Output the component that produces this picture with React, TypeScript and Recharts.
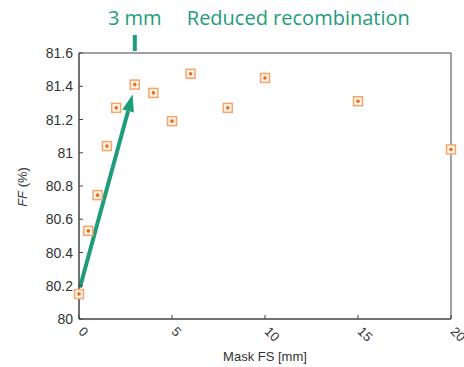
import { Scatter, ScatterChart, XAxis, YAxis, ReferenceLine, ReferenceArea } from "recharts";

const MASK_FS = [0, 0.5, 1, 1.5, 2, 3, 4, 5, 6, 8, 10, 15, 20];
const FF = [80.15, 80.53, 80.745, 81.04, 81.27, 81.41, 81.36, 81.19, 81.475, 81.27, 81.45, 81.31, 81.02];
const X_TICKS = [0, 5, 10, 15, 20];
const Y_TICKS = [80, 80.2, 80.4, 80.6, 80.8, 81, 81.2, 81.4, 81.6];
const ARROW = [{ x: 0.05, y: 80.19 }, { x: 2.88, y: 81.35 }];

const GREEN = "#1e9c7c";
const AXIS = "#444";
const FONT = "'Liberation Sans', Arial, sans-serif";

const data = MASK_FS.map((x, i) => ({ x, y: FF[i] }));

function Marker(props: any) {
  const { cx, cy } = props;
  return (
    <g>
      <rect x={cx - 4.5} y={cy - 4.5} width={9} height={9} fill="#fff4ec" stroke="#f6a66c" strokeWidth={1.5} />
      <circle cx={cx} cy={cy} r={1.8} fill="#f06a10" />
    </g>
  );
}

function BottomTick(props: any) {
  const { x, y, payload } = props;
  return (
    <g>
      <line x1={x} x2={x} y1={y} y2={y - 4} stroke={AXIS} />
      <text x={x + 2} y={y + 10} transform={`rotate(45 ${x + 2} ${y + 10})`} fontSize={13}
        fontFamily={FONT} fill="#333" textAnchor="start" dominantBaseline="central">
        {payload.value}
      </text>
    </g>
  );
}

function TopTick(props: any) {
  const { x, y } = props;
  return <line x1={x} x2={x} y1={y} y2={y + 4} stroke={AXIS} />;
}

function LeftTick(props: any) {
  const { x, y, payload } = props;
  return (
    <g>
      <line x1={x} x2={x + 4} y1={y} y2={y} stroke={AXIS} />
      <text x={x - 6} y={y} fontSize={14} fontFamily={FONT} fill="#333" textAnchor="end" dominantBaseline="central">
        {payload.value}
      </text>
    </g>
  );
}

function RightTick(props: any) {
  const { x, y } = props;
  return <line x1={x} x2={x - 4} y1={y} y2={y} stroke={AXIS} />;
}

function Arrow(props: any) {
  const { x1, y1, x2, y2 } = props;
  const ang = Math.atan2(y2 - y1, x2 - x1);
  const len = 17;
  const half = 6;
  const bx = x2 - len * Math.cos(ang);
  const by = y2 - len * Math.sin(ang);
  const px = -Math.sin(ang) * half;
  const py = Math.cos(ang) * half;
  return (
    <g>
      <line x1={x1} y1={y1} x2={bx} y2={by} stroke={GREEN} strokeWidth={4} />
      <polygon points={`${x2},${y2} ${bx + px},${by + py} ${bx - px},${by - py}`} fill={GREEN} />
    </g>
  );
}

function Marker3mm(props: any) {
  const { x1, y1, y2 } = props;
  const top = Math.min(y1, y2);
  return (
    <g fontFamily="'Open Sans', sans-serif" fill={GREEN} fontSize={20}>
      <rect x={x1 - 2} y={top - 18} width={4} height={16} fill={GREEN} />
      <text x={x1} y={top - 28} textAnchor="middle">3 mm</text>
      <text x={x1 + 52} y={top - 28} textAnchor="start">Reduced recombination</text>
    </g>
  );
}

export default function App() {
  return (
    <div style={{ position: "absolute", left: 0, top: 0, width: 464, height: 367, background: "#fff" }}>
      <ScatterChart width={464} height={367} margin={{ top: 53, right: 13, left: 0, bottom: 0 }}>
        <XAxis xAxisId="b" type="number" dataKey="x" domain={[0, 20]} ticks={X_TICKS} height={48}
          tickSize={0} tickMargin={0} tickLine={false} stroke={AXIS} tick={<BottomTick />}
          label={{ value: "Mask FS [mm]", position: "insideBottom", offset: 6, fontSize: 13, fontFamily: FONT, fill: "#333" }} />
        <XAxis xAxisId="t" orientation="top" type="number" dataKey="x" domain={[0, 20]} ticks={[5, 10, 15]}
          height={0} tickSize={0} tickMargin={0} tickLine={false} stroke={AXIS} tick={<TopTick />} />
        <YAxis yAxisId="l" type="number" dataKey="y" domain={[80, 81.6]} ticks={Y_TICKS} width={79}
          tickSize={0} tickMargin={0} tickLine={false} stroke={AXIS} tick={<LeftTick />} interval={0} />
        <YAxis yAxisId="r" orientation="right" type="number" dataKey="y" domain={[80, 81.6]} ticks={Y_TICKS.slice(1, -1)}
          width={0} tickSize={0} tickMargin={0} tickLine={false} stroke={AXIS} tick={<RightTick />} interval={0} />
        <ReferenceArea xAxisId="b" yAxisId="l" x1={0} x2={20} y1={80} y2={81.6} fill="none" fillOpacity={0}
          stroke={AXIS} strokeWidth={1} ifOverflow="visible" />
        <ReferenceLine xAxisId="b" yAxisId="l" segment={ARROW} shape={<Arrow />} ifOverflow="visible" />
        <ReferenceLine xAxisId="b" yAxisId="l" x={3} shape={<Marker3mm />} ifOverflow="visible" />
        <Scatter xAxisId="b" yAxisId="l" data={data} shape={<Marker />} isAnimationActive={false} />
      </ScatterChart>
      <div style={{ position: "absolute", left: 12, top: 187, transform: "translate(-50%, -50%) rotate(-90deg)",
        transformOrigin: "center", fontFamily: FONT, fontSize: 13, color: "#333", whiteSpace: "nowrap", marginLeft: 10 }}>
        <i>FF</i> (%)
      </div>
    </div>
  );
}
